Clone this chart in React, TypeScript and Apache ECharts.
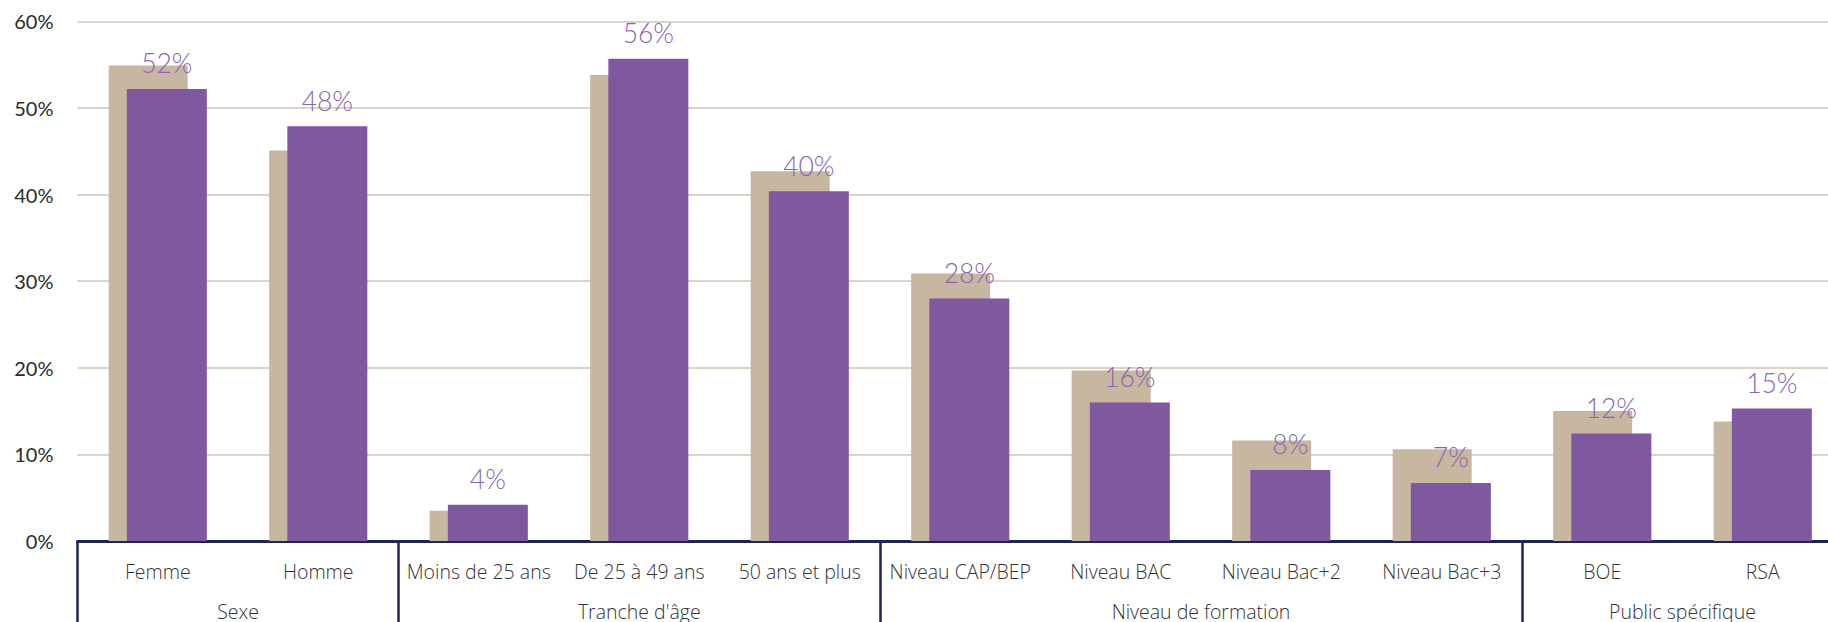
import React, { useEffect, useRef } from "react";
import * as echarts from "echarts";

const categories = [
  "Femme",
  "Homme",
  "Moins de 25 ans",
  "De 25 à 49 ans",
  "50 ans et plus",
  "Niveau CAP/BEP",
  "Niveau BAC",
  "Niveau Bac+2",
  "Niveau Bac+3",
  "BOE",
  "RSA",
];
const referenceValues = [54.9, 45.1, 3.5, 53.8, 42.7, 30.9, 19.7, 11.6, 10.6, 15.0, 13.8];
const currentValues = [52.2, 47.9, 4.2, 55.7, 40.4, 28.0, 16.0, 8.2, 6.7, 12.4, 15.3];
const groupNames = ["Sexe", "Tranche d'âge", "Niveau de formation", "Public spécifique"];
const groupSizes = [2, 3, 4, 2];
const yTicks = [0, 10, 20, 30, 40, 50, 60];

const FONT = "Lato, 'Noto Sans', sans-serif";
const CAT_FONT = "'Open Sans', Lato, sans-serif";

export default function App() {
  const ref = useRef<HTMLDivElement>(null);
  useEffect(() => {
    if (!ref.current) return;
    const chart = echarts.init(ref.current, undefined, { renderer: "svg" });

    const boundaries: number[] = [];
    const centers: number[] = [];
    let acc = 0;
    groupSizes.forEach((s) => {
      boundaries.push(acc);
      centers.push(acc + s / 2);
      acc += s;
    });
    boundaries.push(acc);

    chart.setOption({
      animation: false,
      grid: { left: 77.5, right: 0, top: 21.4, bottom: 81, containLabel: false },
      xAxis: [
        {
          type: "category",
          data: categories,
          position: "bottom",
          axisLine: { show: true, lineStyle: { color: "#1f2357", width: 3 } },
          axisTick: {
            show: true,
            length: 90,
            interval: (index: number) => boundaries.indexOf(index) >= 0,
            lineStyle: { color: "#1f2357", width: 2.5 },
          },
          axisLabel: {
            interval: 0,
            margin: 20,
            color: "#333333",
            fontFamily: CAT_FONT,
            fontWeight: 300,
            fontSize: 19.5,
          },
          splitLine: { show: false },
        },
        {
          type: "value",
          min: 0,
          max: categories.length,
          position: "bottom",
          axisLine: { show: false },
          axisTick: { show: false },
          splitLine: { show: false },
          axisLabel: {
            customValues: centers,
            margin: 60,
            color: "#333333",
            fontFamily: CAT_FONT,
            fontWeight: 300,
            fontSize: 19.5,
            formatter: (v: number) => {
              const i = centers.indexOf(v);
              return i >= 0 ? groupNames[i] : "";
            },
          },
        },
      ],
      yAxis: {
        type: "value",
        min: yTicks[0],
        max: yTicks[yTicks.length - 1],
        interval: 10,
        axisLine: { show: false },
        axisTick: { show: false },
        axisLabel: {
          margin: 24,
          color: "#2b2b2b",
          fontFamily: FONT,
          fontSize: 20,
          formatter: (v: number) => v + "%",
        },
        splitLine: { lineStyle: { color: "#ddd2c6", width: 2 } },
      },
      series: [
        {
          type: "bar",
          xAxisIndex: 0,
          data: referenceValues,
          barWidth: 79,
          barGap: "-77%",
          itemStyle: { color: "#c7b7a0" },
          z: 2,
        },
        {
          type: "bar",
          xAxisIndex: 0,
          data: currentValues,
          barWidth: 80,
          barGap: "-77%",
          itemStyle: { color: "#7f58a0" },
          z: 3,
          label: {
            show: true,
            position: "top",
            distance: 12,
            color: "#8a64b3",
            fontFamily: FONT,
            fontWeight: 300,
            fontSize: 26.5,
            formatter: (p: any) => Math.round(p.value) + "%",
          },
        },
      ],
    });
    return () => chart.dispose();
  }, []);
  return (
    <div
      style={{
        position: "fixed",
        left: 0,
        top: 0,
        width: 1828,
        height: 622,
        overflow: "hidden",
        background: "#fff",
      }}
    >
      <div ref={ref} style={{ width: 1843, height: 622 }} />
    </div>
  );
}
